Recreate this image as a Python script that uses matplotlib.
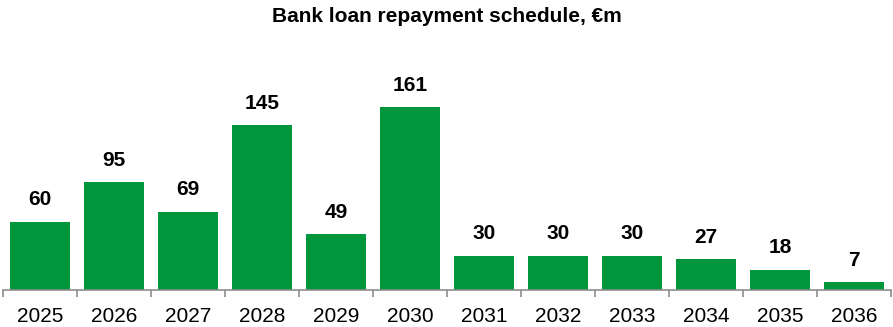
import matplotlib
matplotlib.use("Agg")
import matplotlib.pyplot as plt
import numpy as np

years = ["2025", "2026", "2027", "2028", "2029", "2030",
         "2031", "2032", "2033", "2034", "2035", "2036"]
repayment = [60, 95, 69, 145, 49, 161, 30, 30, 30, 27, 18, 7]

GREEN = "#00963C"
plt.rcParams["font.family"] = ["Liberation Sans", "DejaVu Sans"]

fig = plt.figure(figsize=(8.93, 3.27), dpi=100)
# axes spans nearly the full width; baseline sits ~37px above the bottom
ax = fig.add_axes([3 / 893, 37 / 327, 888 / 893, 250 / 327])

x = np.arange(len(years))
bars = ax.bar(x, repayment, width=0.8, color=GREEN)
for xi, v in zip(x, repayment):
    ax.annotate(str(v), (xi, v), xytext=(0, 9), textcoords="offset points",
                ha="center", va="bottom", fontsize=15, fontweight="bold")

ax.set_xlim(-0.5, len(years) - 0.5)
ax.set_ylim(0, 220)
ax.set_xticks(x)
ax.set_xticklabels(years, fontsize=15)
ax.tick_params(axis="x", which="major", length=0, pad=12)
ax.set_xticks(np.arange(len(years) + 1) - 0.5, minor=True)
ax.tick_params(axis="x", which="minor", length=5, width=1.2, color="#8c8c8c")
ax.set_yticks([])
for side in ("left", "top", "right"):
    ax.spines[side].set_visible(False)
ax.spines["bottom"].set_color("#8c8c8c")
ax.spines["bottom"].set_linewidth(1.2)

fig.text(0.5, 1 - 16 / 327, "Bank loan repayment schedule, €m",
         ha="center", va="center", fontsize=15, fontweight="bold")

fig.savefig("out.png", dpi=100)
